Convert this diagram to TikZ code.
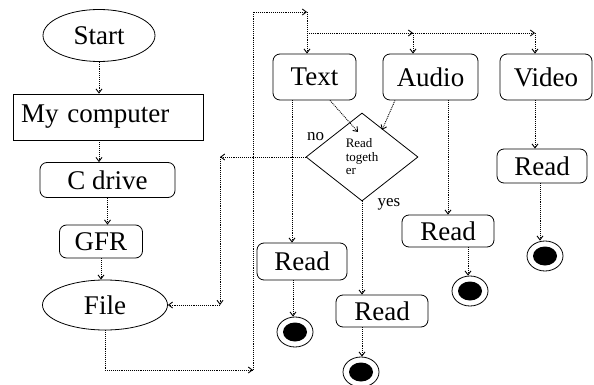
\documentclass[tikz,border=0pt]{standalone}
\usepackage{fontspec}
\setmainfont{Liberation Serif}
\usetikzlibrary{shapes.geometric,arrows.meta}
\begin{document}
\begin{tikzpicture}[x=1pt,y=-1pt,
  base/.style={draw=black,line width=0.8pt,inner sep=0pt,font=\fontsize{27}{30}\selectfont},
  rectbox/.style={base,rectangle},
  rbox/.style={base,rectangle,rounded corners=7pt},
  ovalbox/.style={base,ellipse},
  decision/.style={base,diamond,minimum width=112pt,minimum height=88pt,align=left,font=\fontsize{13}{13.5}\selectfont},
  endnode/.style={draw=black,line width=0.8pt,ellipse,minimum width=36pt,minimum height=30pt,inner sep=0pt,
    path picture={\fill[black] (path picture bounding box.center) ellipse (12pt and 9.5pt);}},
  arr/.style={densely dotted,line width=0.9pt,-{Straight Barb[length=4pt,width=6pt]}},
  lbl/.style={inner sep=0pt,font=\fontsize{17}{19}\selectfont}
]
\useasboundingbox (0,0) rectangle (594,385);
% left column
\node[ovalbox,minimum width=112pt,minimum height=52pt] (start) at (99,35.5) {Start};
\node[rectbox,minimum height=46pt,text width=174pt,inner xsep=8pt,align=left] (mycomp) at (108,117) {My computer};
\node[rbox,minimum width=135pt,minimum height=35pt] (cdrive) at (107.5,180) {C drive};
\node[rbox,minimum width=83pt,minimum height=33pt] (gfr) at (101,241.5) {GFR};
\node[ovalbox,minimum width=125pt,minimum height=50pt] (file) at (105,305) {File};
% top row
\node[rbox,minimum width=83pt,minimum height=46pt] (text) at (314.5,77) {Text};
\node[rbox,minimum width=95pt,minimum height=46pt] (audio) at (430.5,77) {Audio};
\node[rbox,minimum width=92pt,minimum height=46pt] (video) at (546,77) {Video};
% decision
\node[decision] (dec) at (362,157) {Read\\togeth\\er};
\node[lbl] (no) at (315.5,137) {no};
\node[lbl] (yes) at (389,204) {yes};
% read boxes
\node[rbox,minimum width=90pt,minimum height=37pt] (r1) at (302,261.5) {Read};
\node[rbox,minimum width=92pt,minimum height=32pt] (r2) at (382,311) {Read};
\node[rbox,minimum width=92pt,minimum height=32pt] (r3) at (448,231) {Read};
\node[rbox,minimum width=90pt,minimum height=34pt] (r4) at (542,166) {Read};
% end nodes
\node[endnode] (e1) at (295,332) {};
\node[endnode] (e2) at (361,372) {};
\node[endnode] (e3) at (470,291) {};
\node[endnode] (e4) at (545,256) {};
% coordinates
\coordinate (c1) at (253,370);
\coordinate (c3) at (307,12);
\coordinate (c4) at (307,33);
\coordinate (c5) at (413,33);
\coordinate (c6) at (535,33);
\coordinate (c7) at (220,157);
\coordinate (c8) at (220,305);
\coordinate (d1) at (358,132);
\coordinate (d2) at (382,130);
% left column connectors
\draw[arr] (start.south) -- (start.south |- mycomp.north);
\draw[arr] (start.south |- mycomp.south) -- (start.south |- cdrive.north);
\draw[arr] (cdrive.south) -- (cdrive.south |- gfr.north);
\draw[arr] (gfr.south) -- (gfr.south |- file.north);
\draw[arr] (file.south) |- (c1);
\draw[arr] (c1) |- (c3);
\draw[arr] (c3) -- (c3 |- text.north);
\draw[arr] (c4) -- (c5);
\draw[arr] (c5) -- (c6);
\draw[arr] (c5) -- (c5 |- audio.north);
\draw[arr] (c6) -- (c6 |- video.north);
% into decision
\draw[arr] ([xshift=15.5pt]text.south) -- (d1);
\draw[arr] ([xshift=-35.5pt]audio.south) -- (d2);
% no branch
\draw[arr] (dec.west) -- (c7);
\draw[arr] (c7) -- (c8);
\draw[arr] (c8) -- (file.east);
% yes branch
\draw[arr] (dec.south) -- (dec.south |- r2.north);
\draw[arr] (dec.south |- r2.south) -- (dec.south |- e2.north);
% text branch
\draw[arr] ([xshift=-22.5pt]text.south) -- ([xshift=-22.5pt]text.south |- r1.north);
\draw[arr] ([xshift=-9pt]r1.south) -- ([xshift=-9pt]r1.south |- e1.north);
% audio branch
\draw[arr] (r3.north |- audio.south) -- (r3.north);
\draw[arr] ([xshift=20pt]r3.south) -- ([xshift=20pt]r3.south |- e3.north);
% video branch
\draw[arr] (c6 |- video.south) -- (c6 |- r4.north);
\draw[arr] ([xshift=-2pt]r4.south) -- ([xshift=-2pt]r4.south |- e4.north);
\end{tikzpicture}
\end{document}
